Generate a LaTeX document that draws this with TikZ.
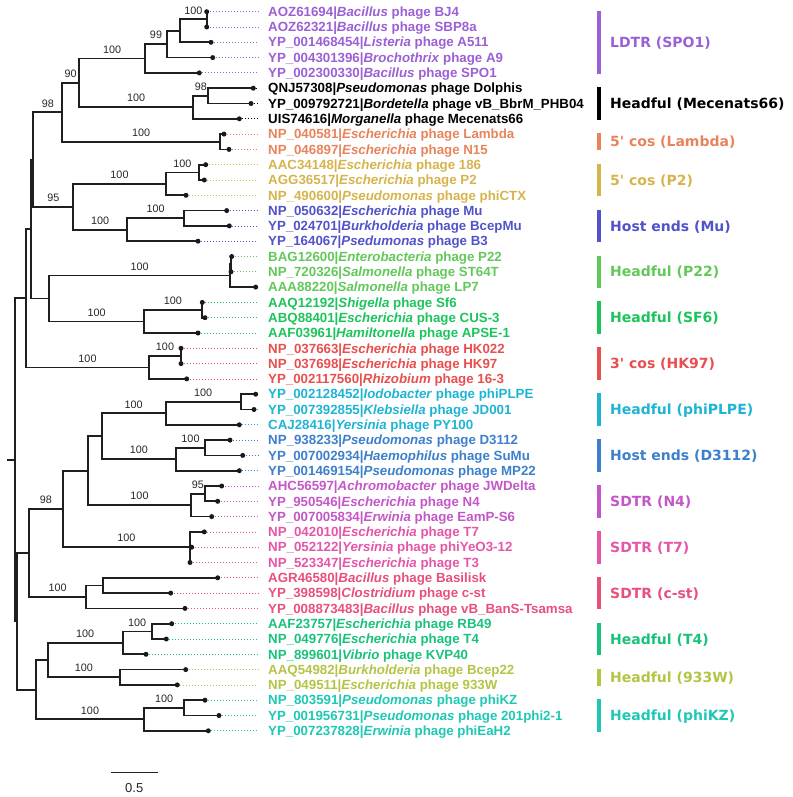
\documentclass[tikz,border=0pt]{standalone}
\usepackage{fontspec}
\setmainfont{Liberation Sans}
\newfontfamily\grpfont{DejaVu Sans}
\usetikzlibrary{calc}
\definecolor{cLD}{HTML}{9B5FD6}
\definecolor{cMe}{HTML}{000000}
\definecolor{cLa}{HTML}{E8845C}
\definecolor{cPt}{HTML}{D6B44C}
\definecolor{cMu}{HTML}{5252C9}
\definecolor{cPz}{HTML}{62C85A}
\definecolor{cSf}{HTML}{1CC45C}
\definecolor{cHk}{HTML}{E84F4F}
\definecolor{cPl}{HTML}{1EB4D4}
\definecolor{cDt}{HTML}{3C80CC}
\definecolor{cNf}{HTML}{C457C8}
\definecolor{cTs}{HTML}{E555A8}
\definecolor{cCs}{HTML}{E8507C}
\definecolor{cTf}{HTML}{19C27A}
\definecolor{cWw}{HTML}{B5C444}
\definecolor{cKz}{HTML}{1EC8B4}
\begin{document}
\begin{tikzpicture}[x=1pt,y=-1pt,
  branch/.style={line width=1.7pt,black!88},
  guide/.style={dash pattern=on 0.9pt off 2.1pt,line width=0.8pt},
  leaflab/.style={anchor=base west,inner sep=0pt,font=\bfseries\fontsize{13.3}{13.3}\selectfont},
  grplab/.style={anchor=base west,inner sep=0pt,font=\grpfont\bfseries\fontsize{14}{14}\selectfont},
  sup/.style={anchor=base,inner sep=0pt,font=\fontsize{10.8}{10.8}\selectfont,text=black!85},
  grpbar/.style={line width=3.6pt}]
\useasboundingbox (0,0) rectangle (792,797);
% internal nodes
\coordinate (R) at (15,459.75);
\coordinate (U) at (26,298.2);
\coordinate (C) at (30.7,229.0);
\coordinate (A98) at (33.3,159.5);
\coordinate (N98) at (62.3,112.3);
\coordinate (N90) at (79,82.9);
\coordinate (LD) at (145.3,58.55);
\coordinate (N99) at (166.7,44.2);
\coordinate (N012) at (180,30.8);
\coordinate (N01) at (206.7,19.35);
\coordinate (MEC) at (193.3,107.3);
\coordinate (N56) at (208.3,95.85);
\coordinate (LAM) at (220,141.75);
\coordinate (N95) at (73.3,206.75);
\coordinate (P2) at (165.7,183.8);
\coordinate (N1011) at (199,172.35);
\coordinate (MU) at (127,229.7);
\coordinate (N1314) at (184.3,218.25);
\coordinate (G49) at (49.3,298.55);
\coordinate (P22) at (230,275.6);
\coordinate (N1617) at (231,264.15);
\coordinate (SF6) at (144,321.5);
\coordinate (N1920) at (201.7,310.05);
\coordinate (HK) at (149,367.4);
\coordinate (N2223) at (181,355.95);
\coordinate (B) at (17.3,621.3);
\coordinate (H29) at (29.3,552.9);
\coordinate (H62) at (62.7,508.95);
\coordinate (H88) at (88.3,470.7);
\coordinate (H101) at (101.7,436.25);
\coordinate (PL) at (165.7,413.3);
\coordinate (N2526) at (240.7,401.85);
\coordinate (D31) at (176,459.2);
\coordinate (N2829) at (205,447.75);
\coordinate (N4) at (190.7,505.1);
\coordinate (N3132) at (205,493.65);
\coordinate (T7) at (190,547.2);
\coordinate (CST) at (86,596.9);
\coordinate (N3738) at (103.3,585.45);
\coordinate (Y) at (36,689.65);
\coordinate (X) at (47.7,660.0);
\coordinate (T4) at (122.7,642.8);
\coordinate (N4041) at (151.7,631.35);
\coordinate (W933) at (120,677.25);
\coordinate (KZ) at (144,719.3);
\coordinate (N4546) at (184.3,707.85);
\coordinate (R0) at (6.5,459.75);
% leaves
\foreach \i/\x/\col/\acc/\gen/\rest in {
 0/206.7/cLD/AOZ61694/Bacillus/BJ4,
 1/206.7/cLD/AOZ62321/Bacillus/SBP8a,
 2/211/cLD/YP\_001468454/Listeria/A511,
 3/212.7/cLD/YP\_004301396/Brochothrix/A9,
 4/199.3/cLD/YP\_002300330/Bacillus/SPO1,
 5/253.3/cMe/QNJ57308/Pseudomonas/Dolphis,
 6/251/cMe/YP\_009792721/Bordetella/vB\_BbrM\_PHB04,
 7/239.3/cMe/UIS74616/Morganella/Mecenats66,
 8/224/cLa/NP\_040581/Escherichia/Lambda,
 9/229/cLa/NP\_046897/Escherichia/N15,
 10/205.7/cPt/AAC34148/Escherichia/186,
 11/204.3/cPt/AGG36517/Escherichia/P2,
 12/186/cPt/NP\_490600/Pseudomonas/phiCTX,
 13/226.7/cMu/NP\_050632/Escherichia/Mu,
 14/229.3/cMu/YP\_024701/Burkholderia/BcepMu,
 15/198/cMu/YP\_164067/Psedumonas/B3,
 16/231.7/cPz/BAG12600/Enterobacteria/P22,
 17/231/cPz/NP\_720326/Salmonella/ST64T,
 18/255.7/cPz/AAA88220/Salmonella/LP7,
 19/202.3/cSf/AAQ12192/Shigella/Sf6,
 20/205/cSf/ABQ88401/Escherichia/CUS-3,
 21/198/cSf/AAF03961/Hamiltonella/APSE-1,
 22/181/cHk/NP\_037663/Escherichia/HK022,
 23/181/cHk/NP\_037698/Escherichia/HK97,
 24/186.7/cHk/YP\_002117560/Rhizobium/16-3,
 25/255.7/cPl/YP\_002128452/Iodobacter/phiPLPE,
 26/254/cPl/YP\_007392855/Klebsiella/JD001,
 27/239.3/cPl/CAJ28416/Yersinia/PY100,
 28/230/cDt/NP\_938233/Pseudomonas/D3112,
 29/242.7/cDt/YP\_007002934/Haemophilus/SuMu,
 30/239.3/cDt/YP\_001469154/Pseudomonas/MP22,
 31/221.7/cNf/AHC56597/Achromobacter/JWDelta,
 32/217.7/cNf/YP\_950546/Escherichia/N4,
 33/211.7/cNf/YP\_007005834/Erwinia/EamP-S6,
 34/204.3/cTs/NP\_042010/Escherichia/T7,
 35/191.7/cTs/NP\_052122/Yersinia/phiYeO3-12,
 36/190/cTs/NP\_523347/Escherichia/T3,
 37/217.7/cCs/AGR46580/Bacillus/Basilisk,
 38/170.7/cCs/YP\_398598/Clostridium/c-st,
 39/185/cCs/YP\_008873483/Bacillus/vB\_BanS-Tsamsa,
 40/171.7/cTf/AAF23757/Escherichia/RB49,
 41/166.3/cTf/NP\_049776/Escherichia/T4,
 42/146/cTf/NP\_899601/Vibrio/KVP40,
 43/185.7/cWw/AAQ54982/Burkholderia/Bcep22,
 44/177.3/cWw/NP\_049511/Escherichia/933W,
 45/205/cKz/NP\_803591/Pseudomonas/phiKZ,
 46/219/cKz/YP\_001956731/Pseudomonas/201phi2-1,
 47/208.3/cKz/YP\_007237828/Erwinia/phiEaH2}{
  \pgfmathsetmacro\yy{11.7+15.3*\i}
  \coordinate (l\i) at (\x,\yy);
  \coordinate (d\i) at (258,\yy);
  \draw[guide,\col] (l\i) -- (d\i);
  \node[leaflab,text=\col] (t\i) at (268,\yy+4.7) {\acc|\textit{\gen} phage \rest};
}
% branches
\draw[line width=2.2pt,black!88] (R0) -- (R);
\foreach \p/\c in {R/U, R/B, U/C, U/HK, C/A98, C/G49, A98/N98, A98/N95, N98/N90, N98/LAM,
  N90/LD, N90/MEC, LD/N99, LD/l4, N99/N012, N99/l3, N012/N01, N012/l2, N01/l0, N01/l1,
  MEC/N56, MEC/l7, N56/l5, N56/l6, LAM/l8, LAM/l9, N95/P2, N95/MU, P2/N1011, P2/l12,
  N1011/l10, N1011/l11, MU/N1314, MU/l15, N1314/l13, N1314/l14, G49/P22, G49/SF6,
  P22/N1617, P22/l18, N1617/l16, N1617/l17, SF6/N1920, SF6/l21, N1920/l19, N1920/l20,
  HK/N2223, HK/l24, N2223/l22, N2223/l23, B/H29, B/Y, H29/H62, H29/CST, H62/H88, H62/T7,
  H88/H101, H88/N4, H101/PL, H101/D31, PL/N2526, PL/l27, N2526/l25, N2526/l26,
  D31/N2829, D31/l30, N2829/l28, N2829/l29, N4/N3132, N4/l33, N3132/l31, N3132/l32,
  T7/l34, T7/l35, T7/l36, CST/N3738, CST/l39, N3738/l37, N3738/l38, Y/X, Y/KZ,
  X/T4, X/W933, T4/N4041, T4/l42, N4041/l40, N4041/l41, W933/l43, W933/l44,
  KZ/N4546, KZ/l47, N4546/l45, N4546/l46}
  \draw[branch] (\p) |- (\c);
\foreach \i in {0,...,47} \fill[black!90] (l\i) circle[radius=2.5pt];
% support values
\foreach \p/\c/\v in {N012/N01/100, LD/N99/99, N90/LD/100, MEC/N56/98, N90/MEC/100,
  N98/N90/90, N98/LAM/100, A98/N98/98, P2/N1011/100, N95/P2/100, MU/N1314/100,
  N95/MU/100, A98/N95/95, G49/P22/100, SF6/N1920/100, G49/SF6/100, HK/N2223/100,
  U/HK/100, PL/N2526/100, H101/PL/100, D31/N2829/100, H101/D31/100, N4/N3132/95,
  H88/N4/100, H62/T7/100, H29/H62/98, H29/CST/100, T4/N4041/100, X/T4/100,
  X/W933/100, KZ/N4546/100, Y/KZ/100}
  \node[sup,yshift=5.3pt] (s\c) at ($(\p|-\c)!0.5!(\c)$) {\v};
% group bars and labels
\foreach \g/\a/\b/\col/\txt in {
 g1/0/4/cLD/LDTR (SPO1),
 g2/5/7/cMe/Headful (Mecenats66),
 g3/8/9/cLa/5\textquotesingle{} cos (Lambda),
 g4/10/12/cPt/5\textquotesingle{} cos (P2),
 g5/13/15/cMu/Host ends (Mu),
 g6/16/18/cPz/Headful (P22),
 g7/19/21/cSf/Headful (SF6),
 g8/22/24/cHk/3\textquotesingle{} cos (HK97),
 g9/25/27/cPl/Headful (phiPLPE),
 g10/28/30/cDt/Host ends (D3112),
 g11/31/33/cNf/SDTR (N4),
 g12/34/36/cTs/SDTR (T7),
 g13/37/39/cCs/SDTR (c-st),
 g14/40/42/cTf/Headful (T4),
 g15/43/44/cWw/Headful (933W),
 g16/45/47/cKz/Headful (phiKZ)}{
  \pgfmathsetmacro\ya{11.7+15.3*\a-1}
  \pgfmathsetmacro\yb{11.7+15.3*\b+1}
  \pgfmathsetmacro\yc{(\ya+\yb)/2}
  \coordinate (\g a) at (599,\ya);
  \coordinate (\g b) at (599,\yb);
  \draw[grpbar,\col] (\g a) -- (\g b);
  \node[grplab,text=\col] (\g) at (610,\yc+5.1) {\txt};
}
% scale bar
\coordinate (sb1) at (110.7,772.3);
\coordinate (sb2) at (157.7,772.3);
\draw[line width=1.3pt,black!85] (sb1) -- (sb2);
\node[anchor=base,inner sep=0pt,font=\fontsize{13}{13}\selectfont,text=black!85] (sbl) at (134.2,792.4) {0.5};
\end{tikzpicture}
\end{document}
